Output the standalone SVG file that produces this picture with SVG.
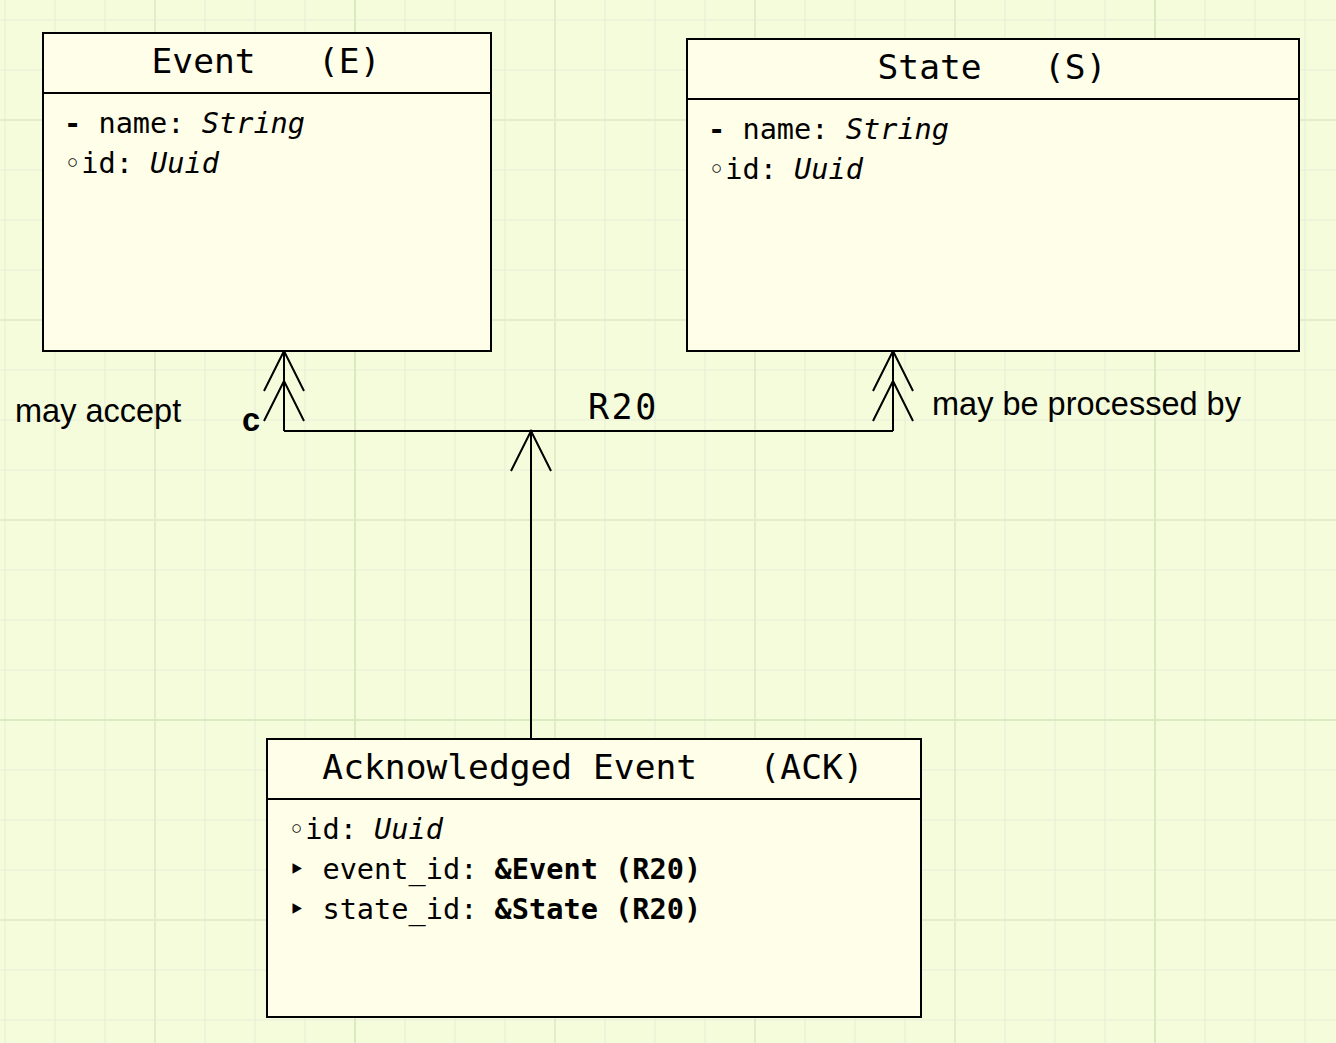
<svg xmlns="http://www.w3.org/2000/svg" width="1336" height="1043" viewBox="0 0 1336 1043">
<style>
.bg{fill:#f5fcdc}
.g1{stroke:#ebf2d9;stroke-width:1.6;fill:none}
.g2{stroke:#e1eac6;stroke-width:1.6;fill:none}
.g3{stroke:#d6e6bb;stroke-width:1.6;fill:none}
.box{fill:#fffee8;stroke:#000;stroke-width:2}
.div{stroke:#000;stroke-width:2}
.title{font-family:"DejaVu Sans Mono",monospace;font-size:34.6px;fill:#000;text-anchor:middle}
.attr{font-family:"DejaVu Sans Mono",monospace;font-size:28.6px;fill:#000}
.it{font-style:italic}
.b{font-weight:bold}
.lbl{font-family:"Liberation Sans",Arial,sans-serif;font-size:32.5px;fill:#000}
.rel{font-family:"DejaVu Sans Mono",monospace;font-size:35px;letter-spacing:2.5px;fill:#000}
.ln{stroke:#000;stroke-width:2;fill:none}
</style>
<rect class="bg" x="0" y="0" width="1336" height="1043"/>
<g id="grid">
<path class="g1" d="M5 0V1043M55 0V1043M105 0V1043M155 0V1043M205 0V1043M255 0V1043M305 0V1043M355 0V1043M405 0V1043M455 0V1043M505 0V1043M555 0V1043M605 0V1043M655 0V1043M705 0V1043M755 0V1043M805 0V1043M855 0V1043M905 0V1043M955 0V1043M1005 0V1043M1055 0V1043M1105 0V1043M1155 0V1043M1205 0V1043M1255 0V1043M1305 0V1043M0 20H1336M0 70H1336M0 120H1336M0 170H1336M0 220H1336M0 270H1336M0 320H1336M0 370H1336M0 420H1336M0 470H1336M0 520H1336M0 570H1336M0 620H1336M0 670H1336M0 720H1336M0 770H1336M0 820H1336M0 870H1336M0 920H1336M0 970H1336M0 1020H1336"/>
<path class="g2" d="M155 0V1043M555 0V1043M755 0V1043M955 0V1043M0 120H1336M0 320H1336M0 520H1336M0 920H1336"/>
<path class="g3" d="M355 0V1043M1155 0V1043M0 720H1336"/>
</g>
<g id="connectors">
<path class="ln" d="M531 739V431M284 431H893M284 431V351M893 431V351"/>
<path class="ln" d="M264 391L284 351L304 391M264 421L284 381L304 421"/>
<path class="ln" d="M873 391L893 351L913 391M873 421L893 381L913 421"/>
<path class="ln" d="M511 471L531 431L551 471"/>
<text class="rel" x="588" y="419">R20</text>
<text class="lbl" x="15" y="422">may accept</text>
<text class="lbl b" x="242" y="431">c</text>
<text class="lbl" x="932" y="415">may be processed by</text>
</g>
<g id="node-event">
<rect class="box" x="43" y="33" width="448" height="318"/>
<line class="div" x1="43" y1="93" x2="491" y2="93"/>
<text class="title" x="266" y="73" xml:space="preserve">Event   (E)</text>
<text class="attr" x="64" y="133" xml:space="preserve"><tspan class="b">-</tspan> name: <tspan class="it">String</tspan></text>
<text class="attr" x="64" y="173" xml:space="preserve">◦id: <tspan class="it">Uuid</tspan></text>
</g>
<g id="node-state">
<rect class="box" x="687" y="39" width="612" height="312"/>
<line class="div" x1="687" y1="99" x2="1299" y2="99"/>
<text class="title" x="992" y="79" xml:space="preserve">State   (S)</text>
<text class="attr" x="708" y="139" xml:space="preserve"><tspan class="b">-</tspan> name: <tspan class="it">String</tspan></text>
<text class="attr" x="708" y="179" xml:space="preserve">◦id: <tspan class="it">Uuid</tspan></text>
</g>
<g id="node-ack">
<rect class="box" x="267" y="739" width="654" height="278"/>
<line class="div" x1="267" y1="799" x2="921" y2="799"/>
<text class="title" x="593" y="779" xml:space="preserve">Acknowledged Event   (ACK)</text>
<text class="attr" x="288" y="839" xml:space="preserve">◦id: <tspan class="it">Uuid</tspan></text>
<text class="attr" x="288" y="879" xml:space="preserve">‣ event_id: <tspan class="b">&amp;Event (R20)</tspan></text>
<text class="attr" x="288" y="919" xml:space="preserve">‣ state_id: <tspan class="b">&amp;State (R20)</tspan></text>
</g>
</svg>
